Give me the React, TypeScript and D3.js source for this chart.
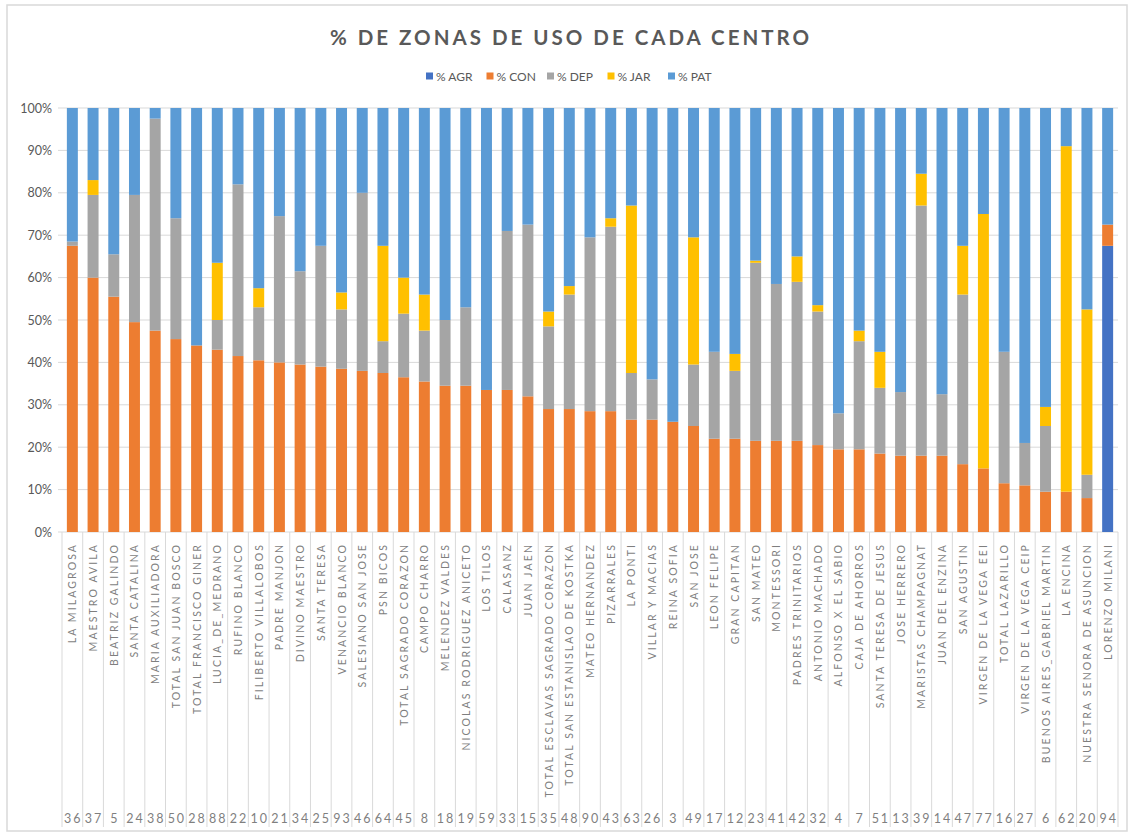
import { useMemo } from 'react'
import * as d3 from 'd3'

const WIDTH = 1130
const HEIGHT = 835
const MARGIN = { top: 108, right: 12, bottom: 303, left: 62 }
const FONT = 'Lato, "Open Sans", sans-serif'

const CENTROS = [
  'LA MILAGROSA', 'MAESTRO AVILA', 'BEATRIZ GALINDO', 'SANTA CATALINA', 'MARIA AUXILIADORA',
  'TOTAL SAN JUAN BOSCO', 'TOTAL FRANCISCO GINER', 'LUCIA_DE_MEDRANO', 'RUFINO BLANCO',
  'FILIBERTO VILLALOBOS', 'PADRE MANJON', 'DIVINO MAESTRO', 'SANTA TERESA', 'VENANCIO BLANCO',
  'SALESIANO SAN JOSE', 'PSN BICOS', 'TOTAL SAGRADO CORAZON', 'CAMPO CHARRO', 'MELENDEZ VALDES',
  'NICOLAS RODRIGUEZ ANICETO', 'LOS TILOS', 'CALASANZ', 'JUAN JAEN', 'TOTAL ESCLAVAS SAGRADO CORAZON',
  'TOTAL SAN ESTANISLAO DE KOSTKA', 'MATEO HERNANDEZ', 'PIZARRALES', 'LA PONTI', 'VILLAR Y MACIAS',
  'REINA SOFIA', 'SAN JOSE', 'LEON FELIPE', 'GRAN CAPITAN', 'SAN MATEO', 'MONTESSORI',
  'PADRES TRINITARIOS', 'ANTONIO MACHADO', 'ALFONSO X EL SABIO', 'CAJA DE AHORROS',
  'SANTA TERESA DE JESUS', 'JOSE HERRERO', 'MARISTAS CHAMPAGNAT', 'JUAN DEL ENZINA', 'SAN AGUSTIN',
  'VIRGEN DE LA VEGA EEI', 'TOTAL LAZARILLO', 'VIRGEN DE LA VEGA CEIP', 'BUENOS AIRES_GABRIEL MARTIN',
  'LA ENCINA', 'NUESTRA SENORA DE ASUNCION', 'LORENZO MILANI'
]

const CODIGOS = [
  '36', '37', '5', '24', '38', '50', '28', '88', '22', '10', '21', '34', '25', '93', '46', '64', '45',
  '8', '18', '19', '59', '33', '15', '35', '48', '90', '43', '63', '26', '3', '49', '17', '12', '23',
  '41', '42', '32', '4', '7', '51', '13', '39', '14', '47', '77', '16', '27', '6', '62', '20', '94'
]

const AGR = [
  0, 0, 0, 0, 0, 0, 0, 0, 0, 0, 0, 0, 0, 0, 0, 0, 0, 0, 0, 0, 0, 0, 0, 0, 0, 0,
  0, 0, 0, 0, 0, 0, 0, 0, 0, 0, 0, 0, 0, 0, 0, 0, 0, 0, 0, 0, 0, 0, 0, 0, 67.5
]
const CON = [
  67.5, 60, 55.5, 49.5, 47.5, 45.5, 44, 43, 41.5, 40.5, 40, 39.5, 39, 38.5, 38, 37.5, 36.5,
  35.5, 34.5, 34.5, 33.5, 33.5, 32, 29, 29, 28.5, 28.5, 26.5, 26.5, 26, 25, 22, 22, 21.5,
  21.5, 21.5, 20.5, 19.5, 19.5, 18.5, 18, 18, 18, 16, 15, 11.5, 11, 9.5, 9.5, 8, 5
]
const DEP = [
  1, 19.5, 10, 30, 50, 28.5, 0, 7, 40.5, 12.5, 34.5, 22, 28.5, 14, 42, 7.5, 15,
  12, 15.5, 18.5, 0, 37.5, 40.5, 19.5, 27, 41, 43.5, 11, 9.5, 0, 14.5, 20.5, 16, 42,
  37, 37.5, 31.5, 8.5, 25.5, 15.5, 15, 59, 14.5, 40, 0, 31, 10, 15.5, 0, 5.5, 0
]
const JAR = [
  0, 3.5, 0, 0, 0, 0, 0, 13.5, 0, 4.5, 0, 0, 0, 4, 0, 22.5, 8.5,
  8.5, 0, 0, 0, 0, 0, 3.5, 2, 0, 2, 39.5, 0, 0, 30, 0, 4, 0.5,
  0, 6, 1.5, 0, 2.5, 8.5, 0, 7.5, 0, 11.5, 60, 0, 0, 4.5, 81.5, 39, 0
]
const PAT = [
  31.5, 17, 34.5, 20.5, 2.5, 26, 56, 36.5, 18, 42.5, 25.5, 38.5, 32.5, 43.5, 20, 32.5, 40,
  44, 50, 47, 66.5, 29, 27.5, 48, 42, 30.5, 26, 23, 64, 74, 30.5, 57.5, 58, 36,
  41.5, 35, 46.5, 72, 52.5, 57.5, 67, 15.5, 67.5, 32.5, 25, 57.5, 79, 70.5, 9, 47.5, 27.5
]

const SERIES = ['% AGR', '% CON', '% DEP', '% JAR', '% PAT']
const COLORS = ['#4472C4', '#ED7D31', '#A5A5A5', '#FFC000', '#5B9BD5']
const Y_TICKS = [0, 0.1, 0.2, 0.3, 0.4, 0.5, 0.6, 0.7, 0.8, 0.9, 1]

export default function App() {
  const innerWidth = WIDTH - MARGIN.left - MARGIN.right
  const innerHeight = HEIGHT - MARGIN.top - MARGIN.bottom

  const rows = useMemo(() => CENTROS.map((name, i) => ({
    name,
    '% AGR': AGR[i],
    '% CON': CON[i],
    '% DEP': DEP[i],
    '% JAR': JAR[i],
    '% PAT': PAT[i]
  })), [])

  const stacked = useMemo(() => d3.stack<any>()
    .keys(SERIES)
    .offset(d3.stackOffsetExpand)(rows), [rows])

  const x = d3.scaleBand().domain(CENTROS).range([0, innerWidth]).paddingInner(0.47).paddingOuter(0.235)
  const xEdge = d3.scaleLinear().domain([0, CENTROS.length]).range([0, innerWidth])
  const y = d3.scaleLinear().domain([0, 1]).range([innerHeight, 0])
  const color = d3.scaleOrdinal<string>().domain(SERIES).range(COLORS)
  const legendX = d3.scalePoint().domain(SERIES).range([426, 668])

  const axisBottom = innerHeight + 295

  return (
    <svg width={WIDTH} height={HEIGHT} style={{ position: 'absolute', left: 0, top: 0, background: '#fff' }}>
      <rect x={7} y={5} width={1120} height={826} fill="#fff" stroke="#d9d9d9" strokeWidth={1.5} />

      <text x={571} y={45} textAnchor="middle" fontFamily={FONT} fontWeight="bold" fontSize={20.5}
        letterSpacing={3} fill="#595959">
        % DE ZONAS DE USO DE CADA CENTRO
      </text>

      {/* Legend */}
      {SERIES.map(s => (
        <g key={s} transform={`translate(${legendX(s)}, 76)`}>
          <rect x={0} y={-3.5} width={7} height={7} fill={color(s)} />
          <text x={10} y={0} dominantBaseline="central" fontFamily={FONT} fontSize={12} fill="#595959">{s}</text>
        </g>
      ))}

      <g transform={`translate(${MARGIN.left}, ${MARGIN.top})`}>
        {/* Grid lines */}
        {Y_TICKS.map(t => (
          <line key={`g-${t}`} x1={-4} x2={innerWidth} y1={y(t)} y2={y(t)} stroke="#d9d9d9" strokeWidth={1} />
        ))}
        {Y_TICKS.map(t => (
          <text key={`yl-${t}`} x={-10} y={y(t)} textAnchor="end" dominantBaseline="central"
            fontFamily={FONT} fontSize={12.5} fill="#595959">
            {d3.format('.0%')(t)}
          </text>
        ))}

        {/* Bars */}
        {stacked.map(layer => (
          <g key={layer.key} fill={color(layer.key)}>
            {layer.map((d, i) => {
              const h = y(d[0]) - y(d[1])
              if (h <= 0) return null
              return (
                <rect key={CENTROS[i]} x={x(CENTROS[i])} y={y(d[1])} width={x.bandwidth()} height={h} />
              )
            })}
          </g>
        ))}

        {/* Category separators */}
        {d3.range(CENTROS.length + 1).map(i => (
          <line key={`sep-${i}`} x1={xEdge(i)} x2={xEdge(i)} y1={innerHeight} y2={axisBottom}
            stroke="#d9d9d9" strokeWidth={1} />
        ))}

        {/* Category labels */}
        {CENTROS.map(name => {
          const cx = (x(name) ?? 0) + x.bandwidth() / 2
          return (
            <text key={`cl-${name}`} transform={`translate(${cx}, ${innerHeight + 11}) rotate(-90)`}
              textAnchor="end" dominantBaseline="central" fontFamily={FONT} fontSize={10.5}
              letterSpacing={2.1} fill="#7f7f7f">
              {name}
            </text>
          )
        })}

        {/* Codes */}
        {CODIGOS.map((c, i) => (
          <text key={`cod-${i}`} x={(xEdge(i) + xEdge(i + 1)) / 2 + 1} y={innerHeight + 291}
            textAnchor="middle" fontFamily={FONT} fontSize={12.5} letterSpacing={2} fill="#7f7f7f">
            {c}
          </text>
        ))}
      </g>
    </svg>
  )
}
